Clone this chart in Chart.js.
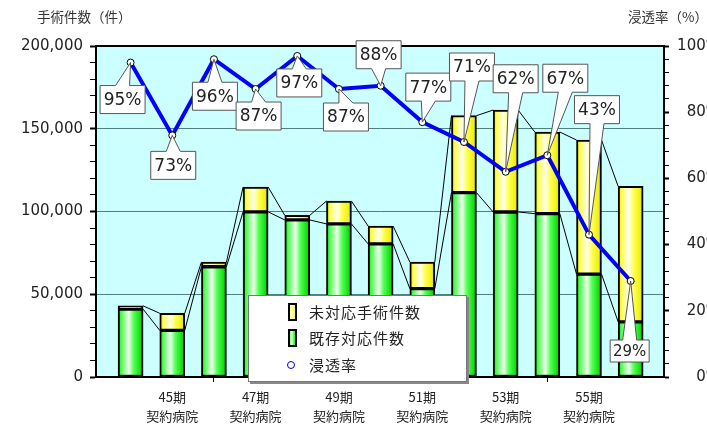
<!DOCTYPE html>
<html lang="ja">
<head>
<meta charset="utf-8">
<title>手術件数と浸透率</title>
<script src="https://cdn.jsdelivr.net/npm/chart.js"></script>
<style>
  html, body { margin: 0; padding: 0; background: #fff; }
  #wrap { width: 707px; height: 424px; }
</style>
</head>
<body>
<div id="wrap"><canvas id="surgeryChart" width="707" height="424"></canvas></div>
<script>
// 期ごとの値
const periods = ['44期', '45期', '46期', '47期', '48期', '49期', '50期', '51期', '52期', '53期', '54期', '55期', '56期'];
const existingCases = [41000, 28200, 66600, 99800, 94900, 92500, 80400, 53400, 111400, 99700, 98700, 62200, 33300];
const unaddressedCases = [2000, 10300, 2800, 15000, 2800, 13800, 10800, 16100, 46500, 61600, 49300, 81000, 81900];
const penetrationRate = [95, 73, 96, 87, 97, 87, 88, 77, 71, 62, 67, 43, 29];
const subLabel = '契約病院';

// callout box offsets from each point (px), layout only
const calloutOffsets = [[-8, 37], [1, 30], [1, 37], [3, 27], [2, 27], [7, 28], [-2, -31],
  [6, -35], [8, -75], [10, -93], [18, -77], [8, -125], [-1, 70]];

const FONT = '"DejaVu Sans", "Noto Sans CJK JP", sans-serif';
const JP_FONT = '"Noto Sans CJK JP", "DejaVu Sans", sans-serif';
const BAR_W = 25;

const greenStops = [[0, '#22e822'], [0.15, '#55ff55'], [0.42, '#f0fff0'], [0.62, '#55ff55'], [0.88, '#11e011'], [1, '#00b800']];
const yellowStops = [[0, '#e8e800'], [0.15, '#ffff55'], [0.42, '#ffffee'], [0.62, '#ffff55'], [0.88, '#f0f010'], [1, '#cccc00']];

function barGradient(stops) {
  return ctx => {
    const chart = ctx.chart;
    if (!chart.chartArea || ctx.dataIndex === undefined) return stops[1][1];
    const xc = chart.scales.x.getPixelForValue(ctx.dataIndex);
    const g = chart.ctx.createLinearGradient(xc - BAR_W / 2, 0, xc + BAR_W / 2, 0);
    stops.forEach(([o, c]) => g.addColorStop(o, c));
    return g;
  };
}

function fillGradRect(c, x, y, w, h, stops) {
  const g = c.createLinearGradient(x, 0, x + w, 0);
  stops.forEach(([o, col]) => g.addColorStop(o, col));
  c.fillStyle = '#000';
  c.fillRect(x, y, w, h);
  c.fillStyle = g;
  c.fillRect(x + 2, y + 2, w - 4, h - 4);
}

const plotBackground = {
  id: 'plotBackground',
  beforeDraw(chart) {
    const { ctx, chartArea: a } = chart;
    ctx.save();
    ctx.fillStyle = '#ccffff';
    ctx.fillRect(a.left, a.top, a.right - a.left, a.bottom - a.top);
    ctx.restore();
  },
  beforeDatasetsDraw(chart) {
    const { ctx, chartArea: a } = chart;
    ctx.save();
    // top frame
    ctx.strokeStyle = '#000';
    ctx.lineWidth = 2;
    ctx.beginPath();
    ctx.moveTo(a.left, a.top);
    ctx.lineTo(a.right, a.top);
    ctx.stroke();
    // series lines between bars
    ctx.lineWidth = 1;
    [0, 1].forEach(di => {
      const bars = chart.getDatasetMeta(di).data;
      for (let i = 0; i < bars.length - 1; i++) {
        const a1 = bars[i], b1 = bars[i + 1];
        ctx.beginPath();
        ctx.moveTo(a1.x + a1.width / 2, a1.y);
        ctx.lineTo(b1.x - b1.width / 2, b1.y);
        ctx.stroke();
      }
    });
    ctx.restore();
  }
};

const callouts = {
  id: 'callouts',
  afterDatasetsDraw(chart) {
    const { ctx } = chart;
    const pts = chart.getDatasetMeta(2).data;
    ctx.save();
    pts.forEach((p, i) => {
      const small = i === pts.length - 1;
      const w = small ? 39 : 45, h = small ? 22 : 28;
      const cx = p.x + calloutOffsets[i][0], cy = p.y + calloutOffsets[i][1];
      const l = cx - w / 2, r = cx + w / 2, t = cy - h / 2, b = cy + h / 2;
      const half = 7;
      ctx.beginPath();
      if (cy < p.y) {
        ctx.moveTo(l, t); ctx.lineTo(r, t); ctx.lineTo(r, b);
        ctx.lineTo(cx + half, b); ctx.lineTo(p.x, p.y); ctx.lineTo(cx - half, b);
        ctx.lineTo(l, b);
      } else {
        ctx.moveTo(l, b); ctx.lineTo(r, b); ctx.lineTo(r, t);
        ctx.lineTo(cx + half, t); ctx.lineTo(p.x, p.y); ctx.lineTo(cx - half, t);
        ctx.lineTo(l, t);
      }
      ctx.closePath();
      ctx.fillStyle = '#fff';
      ctx.fill();
      ctx.strokeStyle = '#555';
      ctx.lineWidth = 1;
      ctx.stroke();
      ctx.fillStyle = '#222';
      ctx.font = (small ? 15 : 17) + 'px ' + FONT;
      ctx.textAlign = 'center';
      ctx.textBaseline = 'middle';
      ctx.fillText(penetrationRate[i] + '%', cx, cy + 1);
    });
    ctx.restore();
  }
};

const legendBox = {
  id: 'legendBox',
  afterDraw(chart) {
    const { ctx } = chart;
    ctx.save();
    ctx.fillStyle = '#888';
    ctx.fillRect(250, 297, 219, 87);
    ctx.fillStyle = '#fff';
    ctx.fillRect(248, 295, 219, 87);
    ctx.strokeStyle = '#777';
    ctx.lineWidth = 1;
    ctx.strokeRect(248.5, 295.5, 218, 86);

    fillGradRect(ctx, 288, 303, 9, 18, yellowStops);
    fillGradRect(ctx, 288, 329, 9, 18, greenStops);
    ctx.beginPath();
    ctx.arc(291, 365, 3.5, 0, Math.PI * 2);
    ctx.fillStyle = '#fff';
    ctx.fill();
    ctx.strokeStyle = '#0000cc';
    ctx.stroke();

    ctx.fillStyle = '#222';
    ctx.font = '15px ' + JP_FONT;
    ctx.letterSpacing = '1px';
    ctx.textBaseline = 'middle';
    ctx.textAlign = 'left';
    ctx.fillText(chart.data.datasets[1].label, 309, 312);
    ctx.fillText(chart.data.datasets[0].label, 309, 338);
    ctx.fillText(chart.data.datasets[2].label, 309, 365);
    ctx.letterSpacing = '0px';

    // axis titles
    ctx.font = '13.5px ' + JP_FONT;
    ctx.fillStyle = '#333';
    ctx.fillText('手術件数（件）', 37, 17);
    ctx.fillText('浸透率（%）', 628, 17);
    ctx.restore();
  }
};

const config = {
  type: 'bar',
  data: {
    datasets: [
      {
        label: '既存対応件数',
        data: existingCases.map((v, i) => ({ x: i, y: v })),
        backgroundColor: barGradient(greenStops),
        borderColor: '#000',
        borderWidth: 2,
        borderSkipped: false,
        barThickness: BAR_W,
        yAxisID: 'y',
        order: 1
      },
      {
        label: '未対応手術件数',
        data: unaddressedCases.map((v, i) => ({ x: i, y: v })),
        backgroundColor: barGradient(yellowStops),
        borderColor: '#000',
        borderWidth: 2,
        borderSkipped: false,
        barThickness: BAR_W,
        yAxisID: 'y',
        order: 2
      },
      {
        type: 'line',
        label: '浸透率',
        data: penetrationRate.map((v, i) => ({ x: i, y: v })),
        borderColor: '#0000ff',
        borderWidth: 4,
        pointRadius: 3.5,
        pointBorderWidth: 1,
        pointBorderColor: '#000',
        pointBackgroundColor: '#fff',
        yAxisID: 'y1',
        order: 0
      }
    ]
  },
  options: {
    responsive: false,
    animation: false,
    events: [],
    // right side runs past the canvas so the % labels are cut off as in the original
    layout: { padding: { top: 46, left: 0, right: -13, bottom: 0 } },
    plugins: {
      legend: { display: false },
      title: { display: false },
      tooltip: { enabled: false }
    },
    scales: {
      x: {
        type: 'linear',
        stacked: true,
        min: -0.83,
        max: 12.8,
        offset: false,
        afterBuildTicks: scale => { scale.ticks = periods.map((p, i) => ({ value: i })); },
        afterFit: scale => { scale.height = 47; },
        border: { color: '#000', width: 2 },
        grid: {
          offset: false,
          drawOnChartArea: false,
          drawTicks: true,
          tickLength: 5,
          color: ctx => (ctx.tick && (ctx.tick.value === 2 || ctx.tick.value === 10)) ? '#000' : 'rgba(0,0,0,0)'
        },
        ticks: {
          autoSkip: false,
          maxRotation: 0,
          padding: 5,
          color: '#222',
          font: { family: JP_FONT, size: 13, lineHeight: 1.5 },
          callback: value => value % 2 === 1 ? [periods[value], subLabel] : ''
        }
      },
      y: {
        type: 'linear',
        position: 'left',
        stacked: true,
        min: 0,
        max: 200000,
        afterFit: scale => { scale.width = 96; },
        border: { color: '#000', width: 2 },
        grid: {
          color: ctx => (ctx.tick && ctx.tick.value % 50000 === 0) ? '#4d8080' : 'rgba(0,0,0,0)',
          tickColor: '#000',
          tickLength: 6,
          tickWidth: ctx => (ctx.tick && ctx.tick.value % 50000 === 0) ? 2 : 1
        },
        ticks: {
          stepSize: 10000,
          autoSkip: false,
          padding: 7,
          color: '#222',
          font: { family: FONT, size: 15 },
          callback: value => value % 50000 === 0 ? value.toLocaleString('en-US') : ''
        }
      },
      y1: {
        type: 'linear',
        position: 'right',
        min: 0,
        max: 100,
        afterFit: scale => { scale.width = 56; },
        border: { color: '#000', width: 2 },
        grid: {
          drawOnChartArea: false,
          color: '#000',
          tickLength: 5,
          tickWidth: ctx => (ctx.tick && ctx.tick.value % 20 === 0) ? 2 : 1
        },
        ticks: {
          stepSize: 4,
          autoSkip: false,
          padding: 7,
          crossAlign: 'far',
          color: '#222',
          font: { family: FONT, size: 15 },
          callback: value => value % 20 === 0 ? value + '%' : ''
        }
      }
    }
  },
  plugins: [plotBackground, callouts, legendBox]
};

const surgeryChart = new Chart(document.getElementById('surgeryChart'), config);
</script>
</body>
</html>
